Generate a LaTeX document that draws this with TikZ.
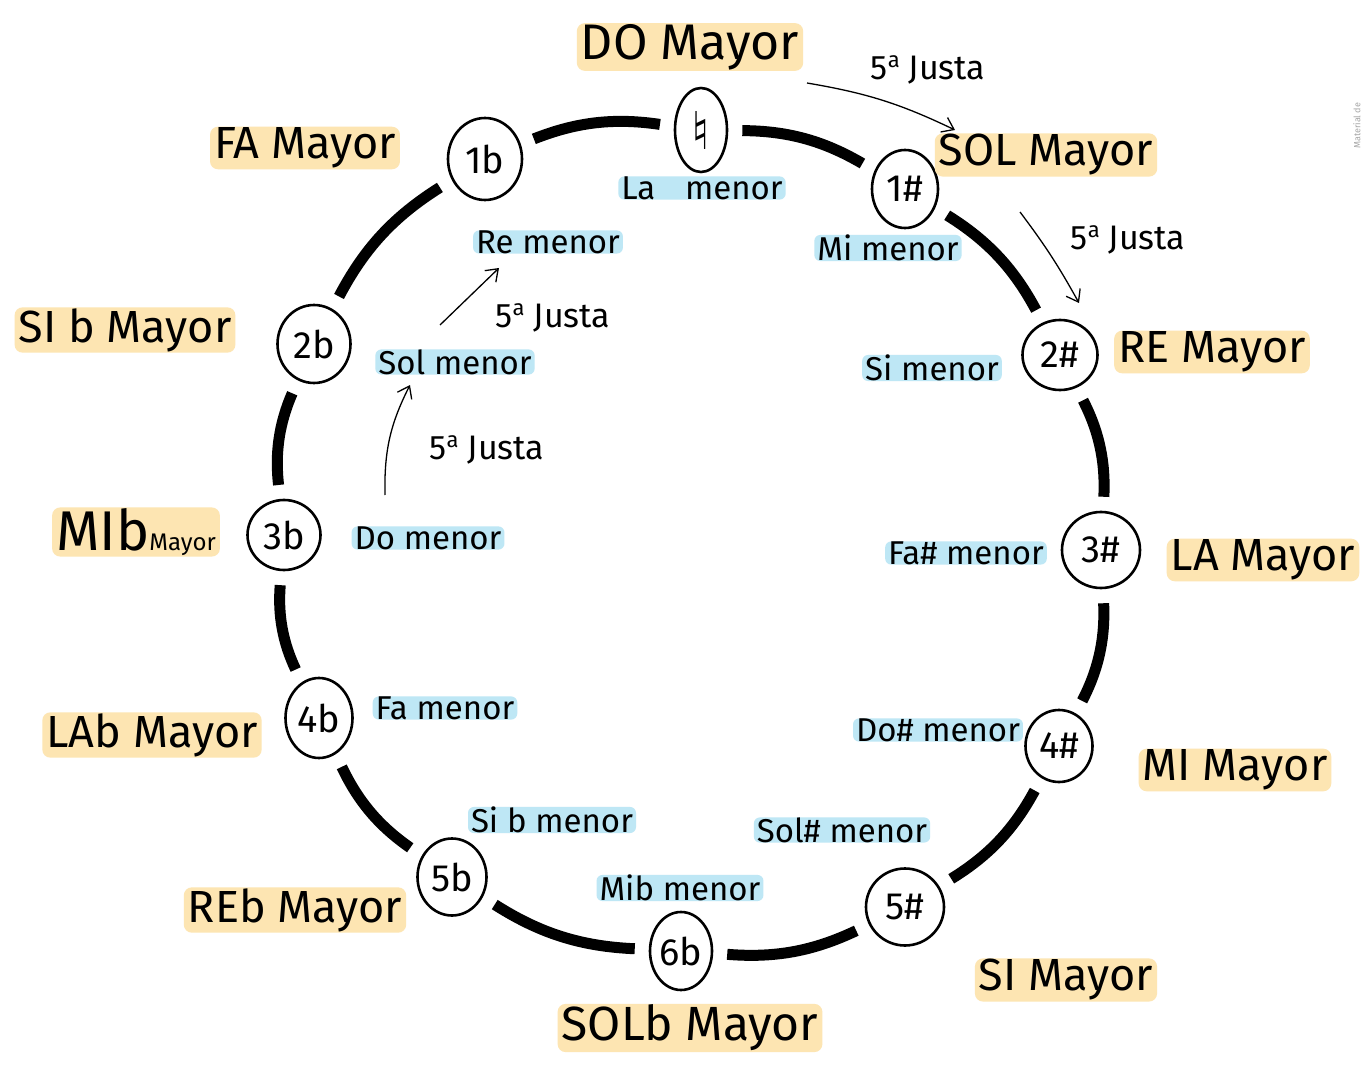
\documentclass[tikz,border=0pt]{standalone}
\usepackage{fontspec}
\setmainfont{Fira Sans}
\newfontfamily\symfont{DejaVu Sans}
\usetikzlibrary{shapes.geometric,arrows.meta}
\definecolor{hlY}{RGB}{253,229,178}
\definecolor{hlB}{RGB}{190,231,245}
\newcommand{\quinta}{5{\fontsize{22}{22}\selectfont\raisebox{12pt}{a}}}
\begin{document}
\begin{tikzpicture}[x=1pt,y=-1pt,
  key/.style={ellipse, draw, line width=2.6pt, fill=white, inner sep=0pt,
    font=\fontsize{38}{40}\selectfont},
  major/.style={fill=hlY, rounded corners=8pt, inner xsep=4pt, inner ysep=1pt,
    font=\fontsize{45}{47}\selectfont},
  minor/.style={fill=hlB, rounded corners=6pt, inner xsep=3pt, inner ysep=0pt,
    font=\fontsize{33}{35}\selectfont},
  fifth/.style={font=\fontsize{34}{36}\selectfont},
  ring/.style={line width=11pt, shorten >=14pt, shorten <=14pt},
  arr/.style={line width=1.3pt, -{Straight Barb[length=11pt,width=16pt,line width=1.3pt]}}
]
\useasboundingbox (0,0) rectangle (1366,1067);
\fill[white] (0,0) rectangle (1366,1067);

% key signature nodes
\node[key, minimum width=52pt, minimum height=84pt] (nat) at (701,130) {{\symfont\fontsize{52}{54}\selectfont ♮}};
\node[key, minimum width=66pt, minimum height=78pt] (s1) at (905,189) {1\#};
\node[key, minimum width=75pt, minimum height=70pt] (s2) at (1060,355) {2\#};
\node[key, minimum width=78pt, minimum height=76pt] (s3) at (1101,550) {3\#};
\node[key, minimum width=67pt, minimum height=72pt] (s4) at (1059,746) {4\#};
\node[key, minimum width=78pt, minimum height=77pt] (s5) at (905,907) {5\#};
\node[key, minimum width=62pt, minimum height=78pt] (f6) at (681,951) {6b};
\node[key, minimum width=69pt, minimum height=77pt] (f5) at (452,877) {5b};
\node[key, minimum width=67pt, minimum height=80pt] (f4) at (319,718) {4b};
\node[key, minimum width=73pt, minimum height=70pt] (f3) at (284,535) {3b};
\node[key, minimum width=73pt, minimum height=78pt] (f2) at (314,344) {2b};
\node[key, minimum width=74pt, minimum height=82pt] (f1) at (485,159) {1b};

% circle of fifths
\draw[ring] (nat) to[bend left=15] (s1);
\draw[ring] (s1) to[bend left=15] (s2);
\draw[ring] (s2) to[bend left=15] (s3);
\draw[ring] (s3) to[bend left=15] (s4);
\draw[ring] (s4) to[bend left=15] (s5);
\draw[ring] (s5) to[bend left=15] (f6);
\draw[ring] (f6) to[bend left=15] (f5);
\draw[ring] (f5) to[bend left=15] (f4);
\draw[ring] (f4) to[bend left=15] (f3);
\draw[ring] (f3) to[bend left=15] (f2);
\draw[ring] (f2) to[bend left=15] (f1);
\draw[ring] (f1) to[bend left=15] (nat);

% major keys
\node[major, font=\fontsize{50}{52}\selectfont] (doM) at (690,47) {DO Mayor};
\node[major] (solM) at (1046,155) {SOL Mayor};
\node[major] (reM) at (1212,352) {RE Mayor};
\node[major] (laM) at (1263,560) {LA Mayor};
\node[major] (miM) at (1235,770) {MI Mayor};
\node[major] (siM) at (1066,980) {SI Mayor};
\node[major, font=\fontsize{48}{50}\selectfont] (solbM) at (690,1028) {SOLb Mayor};
\node[major] (rebM) at (295,910) {REb Mayor};
\node[major] (labM) at (152,735) {LAb Mayor};
\node[major] (mibM) at (136,532) {\fontsize{56}{58}\selectfont MIb{\fontsize{24}{26}\selectfont Mayor}};
\node[major] (sibM) at (125,330) {SI b Mayor};
\node[major] (faM) at (305,148) {FA Mayor};

% minor keys
\node[minor] (lam) at (702,188) {La\hspace{0.9em}menor};
\node[minor] (rem) at (548,242) {Re menor};
\node[minor] (mim) at (888,248) {Mi menor};
\node[minor] (solm) at (455,362) {Sol menor};
\node[minor] (sim) at (932,368) {Si menor};
\node[minor] (dom) at (428,538) {Do menor};
\node[minor] (fasm) at (966,553) {Fa\# menor};
\node[minor] (fam) at (445,708) {Fa menor};
\node[minor] (dosm) at (938,730) {Do\# menor};
\node[minor] (sibm) at (552,820) {Si b menor};
\node[minor] (solsm) at (842,830) {Sol\# menor};
\node[minor] (mibm) at (680,888) {Mib menor};

% fifth arrows
\coordinate (a1s) at (807,83);  \coordinate (a1e) at (955,130);
\coordinate (a2s) at (1020,212); \coordinate (a2e) at (1079,303);
\coordinate (a3s) at (440,325); \coordinate (a3e) at (499,268);
\coordinate (a4s) at (385,495); \coordinate (a4e) at (410,385);
\draw[arr] (a1s) to[bend left=8] (a1e);
\draw[arr] (a2s) to[bend left=4] (a2e);
\draw[arr] (a3s) -- (a3e);
\draw[arr] (a4s) to[bend left=14] (a4e);
\node[fifth] (j1) at (928,70) {\quinta\ Justa};
\node[fifth] (j2) at (1128,240) {\quinta\ Justa};
\node[fifth] (j3) at (553,318) {\quinta\ Justa};
\node[fifth] (j4) at (487,450) {\quinta\ Justa};

% faint margin text
\node[rotate=90, anchor=west, inner sep=1pt, text=black!35, font=\fontsize{9}{10}\selectfont] (margin) at (1357,150) {Material de};
\end{tikzpicture}
\end{document}
